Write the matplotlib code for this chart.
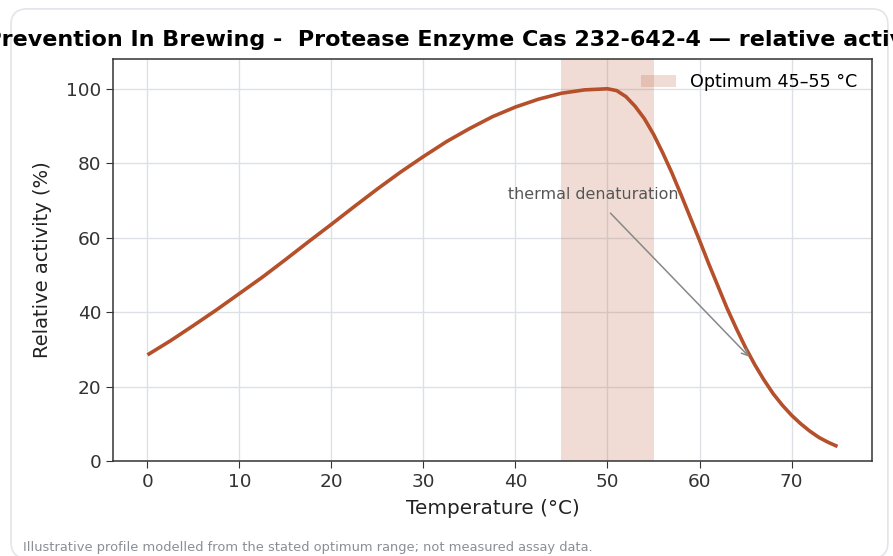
import matplotlib
matplotlib.use("Agg")
import matplotlib.pyplot as plt
from matplotlib.patches import FancyBboxPatch

LINE_C = "#b5502b"
INK = "#222222"
GRID = "#dde1e6"

# relative activity
temps = [0, 2.5, 5, 7.5, 10, 12.5, 15, 17.5, 20, 22.5, 25, 27.5, 30, 32.5,
         35, 37.5, 40, 42.5, 45, 47.5, 50, 51, 52, 53, 54, 55, 56, 57, 58,
         59, 60, 61, 62, 63, 64, 65, 66, 67, 68, 69, 70, 71, 72, 73, 74, 75]
activity = [28.5, 32.3, 36.4, 40.6, 45.0, 49.4, 54.1, 58.9, 63.6, 68.4,
            73.1, 77.6, 81.8, 85.8, 89.3, 92.5, 95.1, 97.2, 98.8, 99.7,
            100.0, 99.5, 97.9, 95.3, 92.0, 87.8, 82.8, 77.4, 71.5, 65.4,
            59.3, 53.0, 47.0, 41.0, 35.6, 30.5, 25.9, 21.8, 18.1, 15.0,
            12.3, 10.0, 8.0, 6.3, 5.0, 3.9]
opt_lo, opt_hi = 45, 55
xticks = [0, 10, 20, 30, 40, 50, 60, 70]
yticks = [0, 20, 40, 60, 80, 100]

title = "Haze Prevention In Brewing -  Protease Enzyme Cas 232-642-4 \u2014 relative activity"
note = "Illustrative profile modelled from the stated optimum range; not measured assay data."

fig = plt.figure(figsize=(8.93, 5.56), dpi=100)
fig.patch.set_facecolor("white")

# card outline
card = FancyBboxPatch((0.0123, -0.004), 0.982, 0.988,
                      boxstyle="round,pad=0,rounding_size=0.018",
                      transform=fig.transFigure, facecolor="none",
                      edgecolor="#e2e5e9", lw=1.2, mutation_aspect=893 / 556)
fig.patches.append(card)

ax = fig.add_axes([0.1265, 0.1709, 0.85, 0.723])
ax.axvspan(opt_lo, opt_hi, color=LINE_C, alpha=0.2, lw=0,
           label="Optimum 45\u201355 \u00b0C")
ax.plot(temps, activity, color=LINE_C, lw=2.6, solid_capstyle="butt")

ax.annotate("thermal denaturation", xy=(65.4, 28), xytext=(48.4, 71.5),
            fontsize=11.4, color="#555555", ha="center", va="center",
            arrowprops=dict(arrowstyle="->", color="#888888", lw=1.1,
                            shrinkA=8, shrinkB=0))

ax.set_xlim(-3.75, 78.75)
ax.set_ylim(0, 108)
ax.set_xticks(xticks)
ax.set_yticks(yticks)
ax.grid(True, color=GRID, lw=1)
ax.set_axisbelow(True)
ax.tick_params(labelsize=13.3, colors="#333333", length=5)
for s in ax.spines.values():
    s.set_color("#333333")
    s.set_linewidth(1.1)

ax.set_xlabel("Temperature (\u00b0C)", fontsize=14.4, color=INK, labelpad=6)
ax.set_ylabel("Relative activity (%)", fontsize=14, color=INK, labelpad=10)
ax.legend(loc="upper right", frameon=False, fontsize=12.6,
          bbox_to_anchor=(1.001, 1.004))

# title runs past the figure edges in the reference
fig.text(-0.094, 0.928, title, fontsize=16, weight="bold", color="black",
         ha="left", va="center")

fig.text(0.026, 0.004, note, fontsize=9.4, color="#8a8f96", ha="left", va="bottom")

fig.savefig("out.png", dpi=100, facecolor="white")
